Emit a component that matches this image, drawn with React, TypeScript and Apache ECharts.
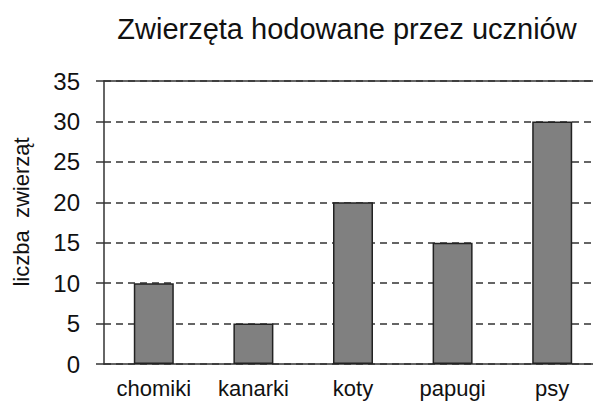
import React, { useEffect, useRef } from "react";
import * as echarts from "echarts";

const titleText = "Zwierzęta hodowane przez uczniów";
const yAxisName = "liczba  zwierząt";
const categories = ["chomiki", "kanarki", "koty", "papugi", "psy"];
const values = [10, 5, 20, 15, 30];
const yMin = 0;
const yMax = 35;
const yStep = 5;

const FONT = "'Liberation Sans', Arial, sans-serif";

export default function App() {
  const ref = useRef<HTMLDivElement>(null);
  useEffect(() => {
    if (!ref.current) return;
    const chart = echarts.init(ref.current, null, { renderer: "svg" });
    chart.setOption({
      animation: false,
      backgroundColor: "#ffffff",
      title: {
        text: titleText,
        left: 342,
        top: 9,
        textAlign: "center",
        textStyle: { fontFamily: FONT, fontSize: 29, fontWeight: "normal", color: "#111" },
      },
      graphic: [
        {
          type: "text",
          x: 21,
          y: 212,
          rotation: Math.PI / 2,
          style: {
            text: yAxisName,
            fontFamily: FONT,
            fontSize: 22,
            fill: "#111",
            align: "center",
            verticalAlign: "middle",
          },
        },
      ],
      grid: { left: 104, top: 81, width: 498, height: 283 },
      xAxis: [
        {
          type: "category",
          data: categories,
          position: "bottom",
          axisLine: { show: true, lineStyle: { color: "#333", width: 1.5 } },
          axisTick: { show: false },
          axisLabel: { fontFamily: FONT, fontSize: 22, color: "#111", margin: 13 },
        },
        {
          type: "category",
          data: categories,
          position: "top",
          axisLine: { show: true, lineStyle: { color: "#333", width: 1.5 } },
          axisTick: { show: false },
          axisLabel: { show: false },
        },
      ],
      yAxis: {
        type: "value",
        min: yMin,
        max: yMax,
        interval: yStep,
        axisLine: { show: true, lineStyle: { color: "#333", width: 1.5 } },
        axisTick: { show: true, inside: false, length: 8, lineStyle: { color: "#333", width: 1.5 } },
        axisLabel: { fontFamily: FONT, fontSize: 24, color: "#111", margin: 24 },
        splitLine: {
          show: true,
          lineStyle: { color: "#333", width: 1.5, type: [7, 5] },
        },
      },
      series: [
        {
          type: "bar",
          data: values,
          barWidth: 40,
          itemStyle: { color: "#808080", borderColor: "#222", borderWidth: 1.5 },
        },
      ],
    });
    return () => chart.dispose();
  }, []);
  return (
    <div
      style={{
        position: "absolute",
        left: 0,
        top: 0,
        width: 593,
        height: 401,
        overflow: "hidden",
        background: "#fff",
      }}
    >
      <div ref={ref} style={{ width: 620, height: 401 }} />
    </div>
  );
}
